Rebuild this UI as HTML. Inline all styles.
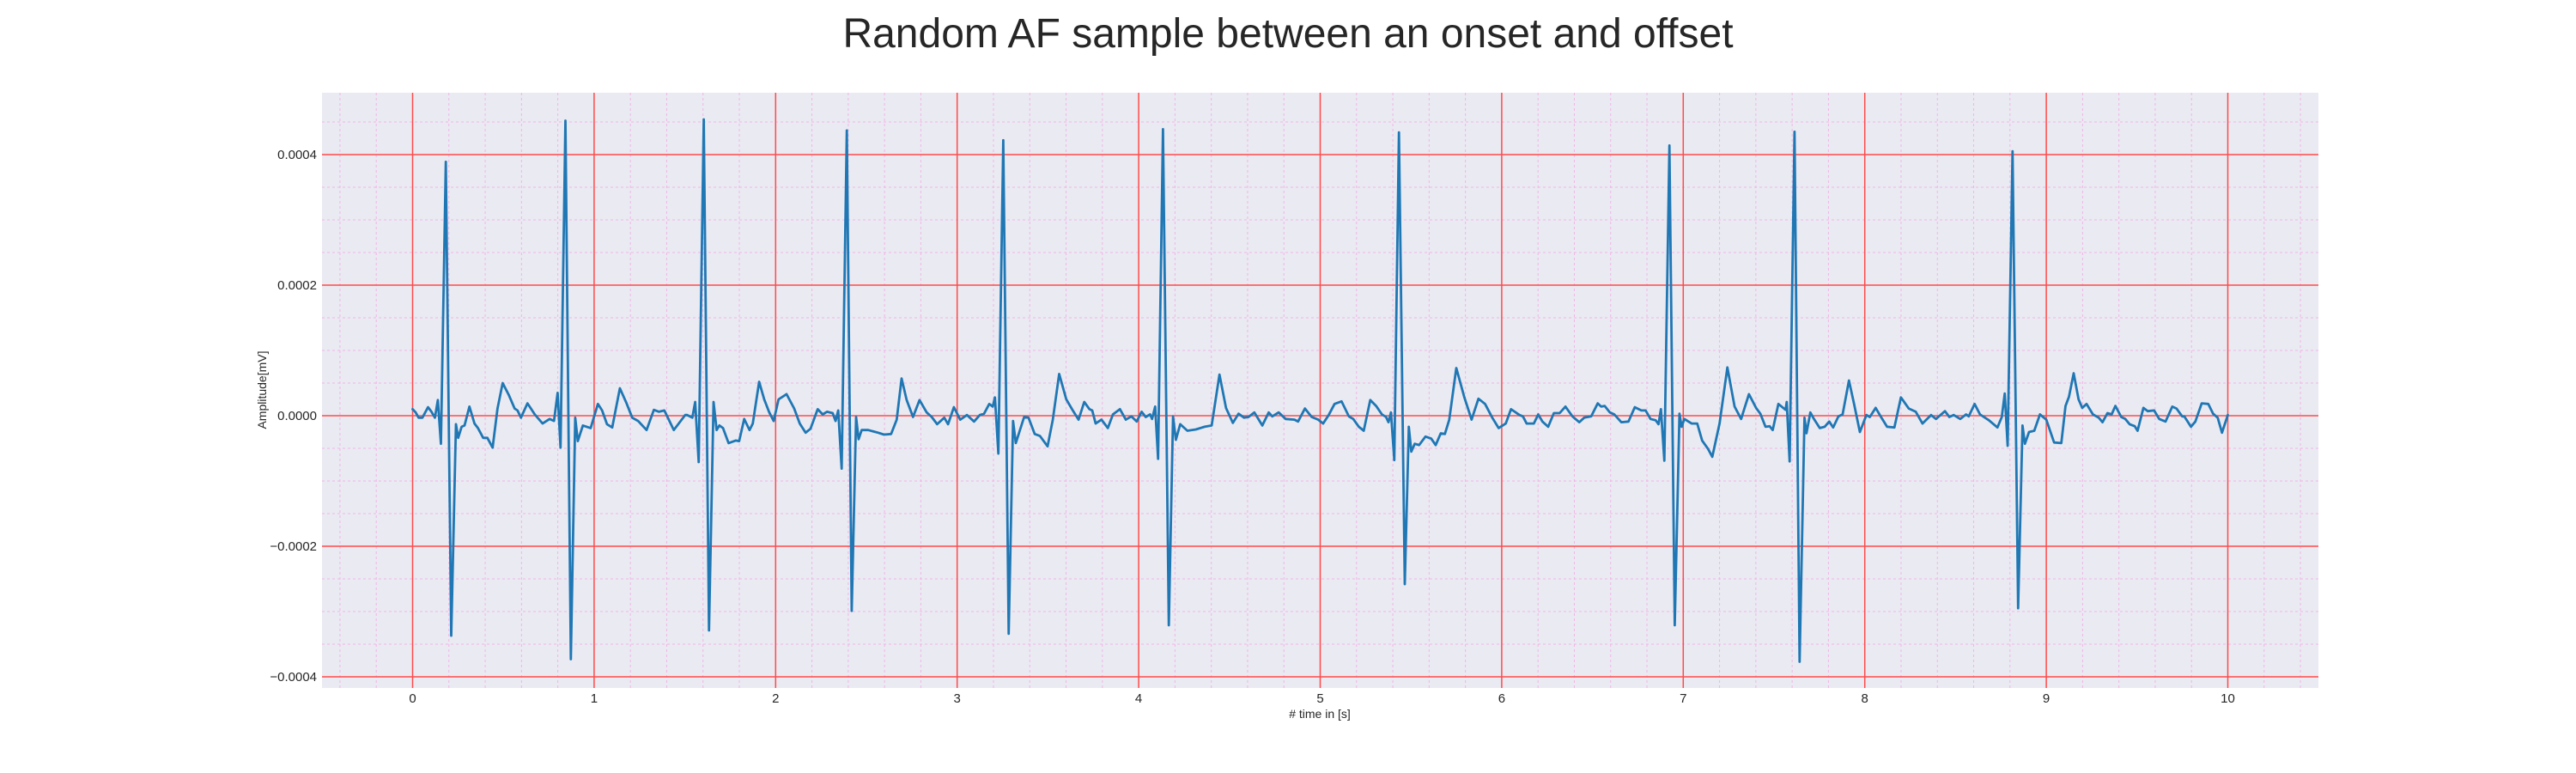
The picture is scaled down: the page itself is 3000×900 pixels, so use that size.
<!DOCTYPE html>
<html><head><meta charset="utf-8"><style>
html,body{margin:0;padding:0;background:#fff;}
svg{display:block;font-family:"Liberation Sans","DejaVu Sans",sans-serif;}
</style></head><body>
<svg id="chart" width="3000" height="900" viewBox="0 0 3000 900" xmlns="http://www.w3.org/2000/svg">
<rect x="0" y="0" width="3000" height="900" fill="#ffffff"/>
<text x="1500" y="55" text-anchor="middle" font-size="48" fill="#262626">Random AF sample between an onset and offset</text>
<rect x="375" y="108" width="2325" height="693" fill="#eaeaf2"/>
<g id="minor-grid"></g>
<g id="major-grid"></g>
<g id="series"></g>
<g id="x-ticks"></g>
<g id="y-ticks"></g>
<text x="1537" y="836" text-anchor="middle" font-size="14" fill="#262626"># time in [s]</text>
<text x="310" y="454" text-anchor="middle" font-size="14" fill="#262626" transform="rotate(-90 310 454)">Amplitude[mV]</text>
</svg>
<script>
const xTickValues=[0,1,2,3,4,5,6,7,8,9,10];
const xTickLabels=["0","1","2","3","4","5","6","7","8","9","10"];
const yTickValues=[-0.0004,-0.0002,0,0.0002,0.0004];
const yTickLabels=["\u22120.0004","\u22120.0002","0.0000","0.0002","0.0004"];
// time in seconds
const times=[0,0.017,0.033,0.054,0.085,0.104,0.123,0.139,0.156,0.183,0.213,0.239,0.251,0.270,0.286,0.313,0.341,0.36,0.389,0.412,0.441,0.468,0.496,0.531,0.562,0.578,0.597,0.633,0.673,0.716,0.755,0.779,0.799,0.815,0.842,0.872,0.896,0.910,0.938,0.981,1.021,1.044,1.071,1.100,1.142,1.179,1.21,1.242,1.289,1.329,1.357,1.387,1.439,1.502,
1.513,1.541,1.557,1.576,1.604,1.633,1.658,1.675,1.69,1.71,1.741,1.780,1.799,1.827,1.856,1.874,1.909,1.937,1.965,1.989,2.016,2.06,2.102,2.133,2.165,2.192,2.232,2.259,2.283,2.314,2.33,2.345,2.364,2.392,2.419,2.443,2.457,2.474,2.51,2.565,2.597,2.636,2.667,2.694,2.722,2.757,2.793,2.832,2.86,2.89,2.929,2.95,2.982,3.017,
3.054,3.093,3.125,3.148,3.177,3.196,3.208,3.227,3.254,3.284,3.308,3.323,3.345,3.369,3.393,3.427,3.456,3.498,3.527,3.562,3.601,3.637,3.669,3.700,3.729,3.744,3.763,3.795,3.830,3.858,3.897,3.929,3.96,3.989,4.016,4.039,4.063,4.074,4.091,4.107,4.134,4.166,4.189,4.205,4.229,4.268,4.315,4.363,4.402,4.445,4.481,4.519,
4.55,4.581,4.605,4.637,4.681,4.716,4.736,4.771,4.81,4.858,4.878,4.916,4.953,4.989,5.016,5.047,5.079,5.118,5.158,5.182,5.213,5.24,5.276,5.308,5.34,5.363,5.376,5.39,5.408,5.434,5.466,5.488,5.502,5.521,5.545,5.58,5.611,5.636,5.664,5.687,5.711,5.75,5.794,5.834,5.872,5.908,5.948,5.983,
6.022,6.051,6.098,6.117,6.137,6.177,6.201,6.224,6.256,6.287,6.319,6.351,6.39,6.427,6.454,6.493,6.529,6.548,6.567,6.596,6.62,6.659,6.698,6.733,6.769,6.793,6.82,6.848,6.864,6.877,6.896,6.924,6.953,6.979,6.991,7.006,7.046,7.077,7.104,7.137,7.16,7.2,7.243,7.283,7.319,7.362,7.401,7.425,7.453,7.476,7.493,7.524,7.564,
7.570,7.586,7.613,7.641,7.668,7.679,7.7,7.72,7.752,7.779,7.804,7.826,7.855,7.878,7.913,7.942,7.973,8.009,8.028,8.06,8.092,8.123,8.163,8.199,8.242,8.281,8.318,8.365,8.392,8.442,8.466,8.49,8.526,8.558,8.573,8.605,8.635,8.684,8.731,8.755,8.771,8.787,8.814,8.845,8.869,8.882,8.905,8.934,8.965,9.0,
9.043,9.083,9.106,9.125,9.151,9.178,9.198,9.222,9.257,9.289,9.31,9.337,9.36,9.381,9.413,9.435,9.459,9.487,9.503,9.535,9.559,9.594,9.622,9.657,9.694,9.717,9.749,9.76,9.797,9.821,9.856,9.892,9.919,9.944,9.968,10.0];
// amplitude in microvolts (x1e-6 mV)
const amplitudesMicro=[10,5,-3,-3,13,6,-3,24,-43,389,-337,-13,-34,-17,-15,14,-12,-19,-34,-34,-49,11,50,31,11,8,-3,19,2,-12,-5,-8,35,-49,452,-373,-3,-39,-15,-19,18,8,-13,-18,42,19,-3,-8,-22,9,6,8,-22,1,
1,-3,21,-71,454,-329,21,-22,-15,-19,-42,-38,-39,-5,-22,-12,52,25,5,-8,25,33,11,-12,-26,-20,10,2,6,4,-8,8,-81,437,-299,-2,-36,-22,-22,-26,-29,-28,-6,57,24,-2,24,5,-2,-13,-3,-13,13,-6,
1,-9,1,3,18,14,28,-58,422,-334,-8,-42,-23,-2,-3,-28,-31,-47,-6,64,25,8,-6,21,10,8,-12,-6,-19,2,10,-6,-1,-9,6,-2,2,-5,14,-66,439,-321,-1,-37,-13,-23,-21,-17,-15,63,12,-11,
3,-3,-2,5,-15,5,-1,5,-5,-6,-9,11,-2,-6,-12,1,18,22,-1,-5,-17,-23,24,15,2,-2,-10,5,-68,434,-258,-17,-55,-43,-45,-32,-35,-45,-27,-28,-6,73,28,-6,26,18,-3,-19,
-12,10,1,-1,-12,-12,2,-9,-17,4,4,14,-1,-10,-3,-1,19,14,15,5,2,-10,-9,13,8,8,-5,-7,-13,10,-69,414,-321,3,-17,-5,-12,-12,-38,-51,-63,-12,74,14,-5,33,12,3,-17,-16,-22,18,9,
21,-70,435,-377,-3,-27,5,-5,-19,-17,-9,-18,-1,2,54,17,-25,1,-2,12,-3,-17,-18,28,11,6,-12,1,-5,7,-2,1,-5,2,-1,18,2,-7,-18,-2,34,-46,405,-295,-15,-43,-25,-23,2,-6,
-41,-42,15,29,65,25,12,18,2,-3,-10,4,2,15,-2,-5,-13,-16,-23,12,7,8,-5,-9,14,11,-1,-1,-17,-9,19,18,3,-3,-26,1];

const NS="http://www.w3.org/2000/svg";
const PL=375,PR=2700,PT=108,PB=801;
const X0=480.5,XS=211.4;
const Y0=484,YS=0.76e6;
function xScale(t){return X0+t*XS;}
function yScale(v){return Y0-v*YS;}
function mk(tag,attrs,parent){const e=document.createElementNS(NS,tag);for(const k in attrs)e.setAttribute(k,attrs[k]);parent.appendChild(e);return e;}

const minor=document.getElementById('minor-grid');
for(let i=-2;i<=52;i++){const t=i*0.2;if(i%5===0)continue;const x=xScale(t);if(x<PL||x>PR)continue;
 const l=mk('line',{x1:x,x2:x,y1:PT,y2:PB,stroke:'#f2b4e6','stroke-width':1,'stroke-dasharray':'3,3'},minor);
 
 }
for(let i=-9;i<=10;i++){if(i%4===0)continue;const v=i*0.00005;const y=yScale(v);if(y<PT||y>PB)continue;
 const l=mk('line',{x1:PL,x2:PR,y1:y,y2:y,stroke:'#f2b4e6','stroke-width':1,'stroke-dasharray':'3,3'},minor);
 
 }
const major=document.getElementById('major-grid');
const xt=document.getElementById('x-ticks'),yt=document.getElementById('y-ticks');
xTickValues.forEach((t,i)=>{const x=xScale(t);
 const l=mk('line',{x1:x,x2:x,y1:PT,y2:PB,stroke:'#ff4a4a','stroke-width':1.5},major);
 
 
 const tx=mk('text',{x:x,y:818,'text-anchor':'middle','font-size':15,fill:'#262626'},xt);
 tx.textContent=xTickLabels[i];
 
 });
yTickValues.forEach((v,i)=>{const y=yScale(v);
 const l=mk('line',{x1:PL,x2:PR,y1:y,y2:y,stroke:'#ff4a4a','stroke-width':1.5},major);
 
 
 const tx=mk('text',{x:369,y:y+5,'text-anchor':'end','font-size':15,fill:'#262626'},yt);
 tx.textContent=yTickLabels[i];
 
 });
const pts=times.map((t,i)=>xScale(t).toFixed(1)+','+yScale(amplitudesMicro[i]*1e-6).toFixed(1)).join(' ');
const line=mk('polyline',{points:pts,fill:'none',stroke:'#1f77b4','stroke-width':2.8,'stroke-linejoin':'round','stroke-linecap':'round'},document.getElementById('series'));


</script>
</body></html>
